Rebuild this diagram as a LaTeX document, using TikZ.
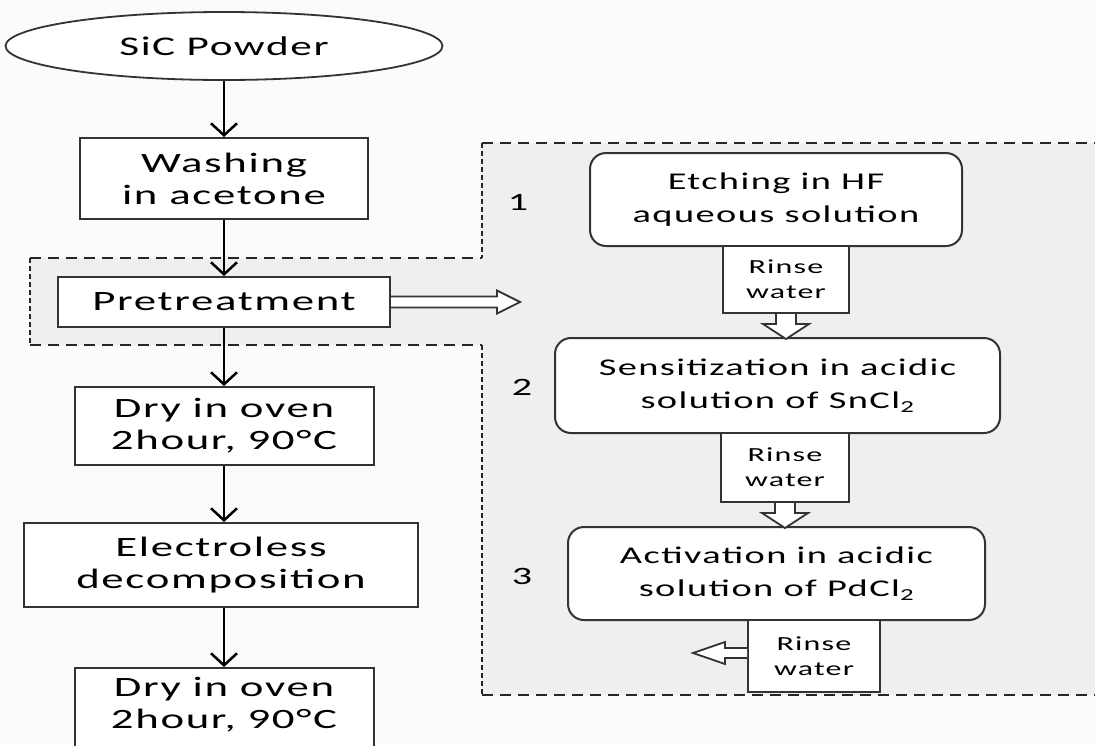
\documentclass[tikz,border=0pt]{standalone}
\usepackage{fontspec}
\setmainfont{Carlito}[FakeStretch=1.6,LetterSpace=6]
\usetikzlibrary{shapes.geometric,arrows.meta,calc}
\definecolor{pagebg}{HTML}{FBFBFB}
\definecolor{regionbg}{HTML}{EFEFEF}
\definecolor{edgec}{HTML}{333333}
\tikzset{
  box/.style={draw=edgec, line width=2pt, fill=white, inner sep=0pt, align=center,
    font=\fontsize{28}{32}\selectfont},
  rbox/.style={box, rounded corners=16pt, font=\fontsize{24}{33}\selectfont},
  rinse/.style={box, font=\fontsize{20}{25}\selectfont},
  numlabel/.style={inner sep=0pt, font=\fontsize{25}{30}\selectfont},
  flow/.style={draw=black, line width=2.5pt, -{Straight Barb[length=12pt,width=26pt]}},
  hollow/.style={draw=edgec, line width=1.8pt, fill=white, line join=miter},
  longdash/.style={draw=black!85, line width=2.2pt, dash pattern=on 11pt off 7pt},
  shortdash/.style={draw=black!85, line width=2.2pt, dash pattern=on 5pt off 3pt}
}
\begin{document}
\begin{tikzpicture}[x=1pt,y=-1pt]
\useasboundingbox (0,0) rectangle (1095,745);
\clip (0,0) rectangle (1095,745);
\fill[pagebg] (0,0) rectangle (1095,745);
% shaded pretreatment region
\fill[regionbg] (30,258) -- (482,258) -- (482,143) -- (1100,143) -- (1100,695)
  -- (482,695) -- (482,345) -- (30,345) -- cycle;
\draw[longdash] (30,258) -- (482,258);
\draw[longdash] (30,345) -- (482,345);
\draw[longdash] (482,143) -- (1100,143);
\draw[longdash] (482,695) -- (1100,695);
\draw[shortdash] (30,258) -- (30,345);
\draw[shortdash] (482,143) -- (482,258);
\draw[shortdash] (482,345) -- (482,695);

% left column
\node[ellipse, draw=edgec, line width=1.8pt, fill=white, minimum width=437pt, minimum height=68pt,
  inner sep=0pt, font=\fontsize{27}{32}\selectfont] (sic) at (224,46) {SiC Powder};
\node[box, minimum width=288pt, minimum height=81pt] (wash) at (224,178.5) {Washing\\in acetone};
\node[box, minimum width=332pt, minimum height=50pt] (pre) at (224,302) {Pretreatment};
\node[box, minimum width=299pt, minimum height=78pt] (dry1) at (224,426) {Dry in oven\\2hour, 90°C};
\node[box, minimum width=394pt, minimum height=84pt] (elec) at (221,565) {Electroless\\decomposition};
\node[box, minimum width=299pt, minimum height=92pt] (dry2) at (224,714) {};
\node[inner sep=0pt, align=center, font=\fontsize{28}{32}\selectfont, anchor=north] (dry2t) at (224,677) {Dry in oven\\2hour, 90°C};

\draw[flow] (sic.south) -- (wash.north);
\draw[flow] (wash.south) -- (pre.north);
\draw[flow] (pre.south) -- (dry1.north);
\draw[flow] (dry1.south) -- (dry1.south |- elec.north);
\draw[flow] (elec.south -| dry1.south) -- (dry2.north);

% right panel
\node[rbox, minimum width=372pt, minimum height=93pt] (b1) at (776,199.5) {Etching in HF\\aqueous solution};
\node[rinse, minimum width=126pt, minimum height=67pt] (r1) at (786,279.5) {Rinse\\water};
\node[rbox, minimum width=445pt, minimum height=95pt] (b2) at (777.5,385.5) {Sensitization in acidic\\solution of SnCl\textsubscript{2}};
\node[rinse, minimum width=128pt, minimum height=69pt] (r2) at (785,467.5) {Rinse\\water};
\node[rbox, minimum width=417pt, minimum height=93pt] (b3) at (776.5,573.5) {Activation in acidic\\solution of PdCl\textsubscript{2}};
\node[rinse, minimum width=132pt, minimum height=72pt] (r3) at (814,656) {Rinse\\water};
\node[numlabel] (n1) at (518,202) {1};
\node[numlabel] (n2) at (522,387) {2};
\node[numlabel] (n3) at (522,576) {3};

% hollow arrows
\draw[hollow] ($(pre.east)+(0,-5.5)$) -- ++(106,0) -- ++(0,-6) -- ++(23,11.5) -- ++(-23,11.5)
  -- ++(0,-6) -- ++(-106,0);
\draw[hollow] ($(r1.south)+(-10,0)$) -- ++(0,10) -- ++(-13,0) -- ++(23,15) -- ++(23,-15)
  -- ++(-13,0) -- ++(0,-10);
\draw[hollow] ($(r2.south)+(-10,0)$) -- ++(0,10) -- ++(-13,0) -- ++(23,15) -- ++(23,-15)
  -- ++(-13,0) -- ++(0,-10);
\draw[hollow] ($(r3.west)+(0,-8)$) -- ++(-22,0) -- ++(0,-6) -- ++(-32,11) -- ++(32,11)
  -- ++(0,-6) -- ++(22,0);
\end{tikzpicture}
\end{document}
